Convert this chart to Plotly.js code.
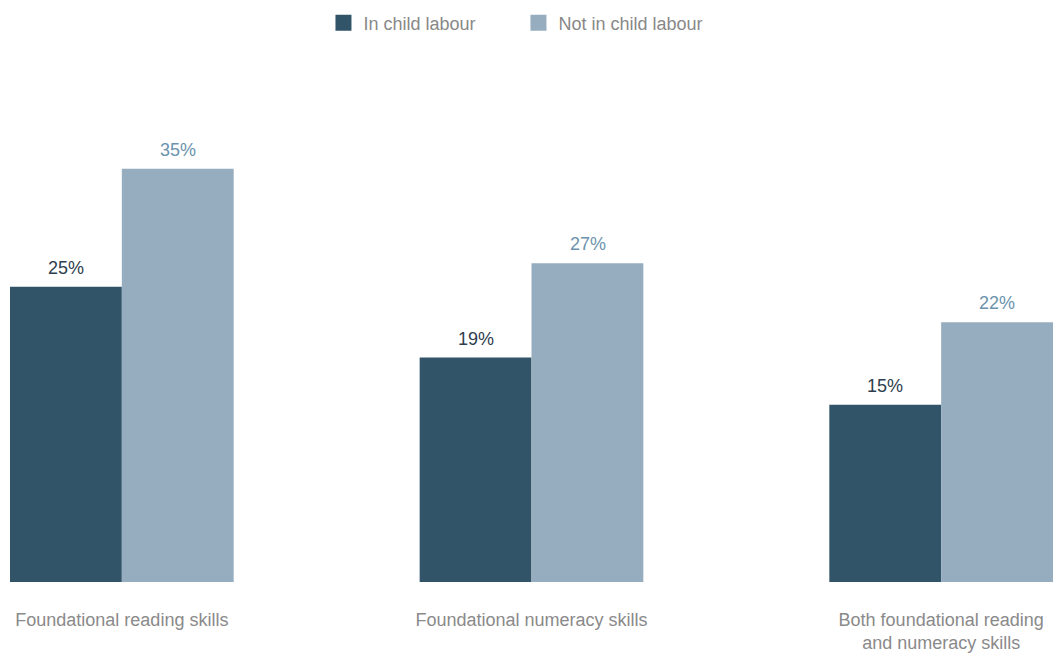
<!DOCTYPE html>
<html>
<head>
<meta charset="utf-8">
<script src="https://cdn.plot.ly/plotly-3.0.1.min.js"></script>
<style>
html,body{margin:0;padding:0;background:#fff;}
#chart{width:1055px;height:654px;}
</style>
</head>
<body>
<div id="chart"></div>
<script>
var categories = ["Foundational reading skills", "Foundational numeracy skills", "Both foundational reading<br>and numeracy skills"];
var seriesNames = ["In child labour", "Not in child labour"];
var inChildLabour = [25, 19, 15];
var notInChildLabour = [35, 27, 22];

var barColors = ["#325468", "#96adbf"];
var labelColors = ["#2e3e4e", "#6b93ad"];
var FONT = "Liberation Sans, Arial, Helvetica, sans-serif";

var seriesValues = [inChildLabour, notInChildLabour];
var traces = [];
seriesValues.forEach(function (vals, s) {
  traces.push({
    type: "bar",
    x: categories,
    y: vals,
    name: seriesNames[s],
    marker: {color: barColors[s]},
    showlegend: false,
    hoverinfo: "x+y"
  });
});
// legend entries with larger square swatches
seriesNames.forEach(function (n, s) {
  traces.push({
    type: "scatter",
    mode: "markers",
    x: [null], y: [null],
    name: n,
    marker: {symbol: "square", size: 16, color: barColors[s]},
    showlegend: true,
    hoverinfo: "skip"
  });
});

var annotations = [];
var halfBarPx = 56;
seriesValues.forEach(function (vals, s) {
  vals.forEach(function (v, i) {
    annotations.push({
      xref: "x", yref: "y",
      x: categories[i], y: v,
      text: v + "%",
      showarrow: false,
      xanchor: "center", yanchor: "bottom",
      xshift: s === 0 ? -halfBarPx : halfBarPx,
      yshift: 7,
      font: {family: FONT, size: 18, color: labelColors[s]}
    });
  });
});

var layout = {
  width: 1055, height: 654,
  margin: {l: 10, r: 2, t: 60, b: 72},
  paper_bgcolor: "#ffffff",
  plot_bgcolor: "#ffffff",
  barmode: "group",
  bargap: 0.454,
  bargroupgap: 0,
  showlegend: true,
  legend: {
    orientation: "h",
    x: 0.4875, xanchor: "center",
    y: 1.0 + (60 - 23) / 522, yanchor: "middle",
    font: {family: FONT, size: 18, color: "#888888"},
    itemwidth: 30,
    entrywidth: 150,
    bgcolor: "rgba(0,0,0,0)"
  },
  xaxis: {
    type: "category",
    range: [-0.273, 2.273],
    showgrid: false, zeroline: false, showline: false,
    ticks: "",
    ticklabelstandoff: 25,
    tickfont: {family: FONT, size: 18, color: "#8a8a8a"},
    automargin: false,
    fixedrange: true
  },
  yaxis: {
    range: [0, 44.2],
    showgrid: false, zeroline: false, showline: false,
    showticklabels: false, ticks: "",
    automargin: false,
    fixedrange: true
  },
  annotations: annotations,
  font: {family: FONT}
};

Plotly.newPlot("chart", traces, layout, {displayModeBar: false, staticPlot: true});
</script>
</body>
</html>
